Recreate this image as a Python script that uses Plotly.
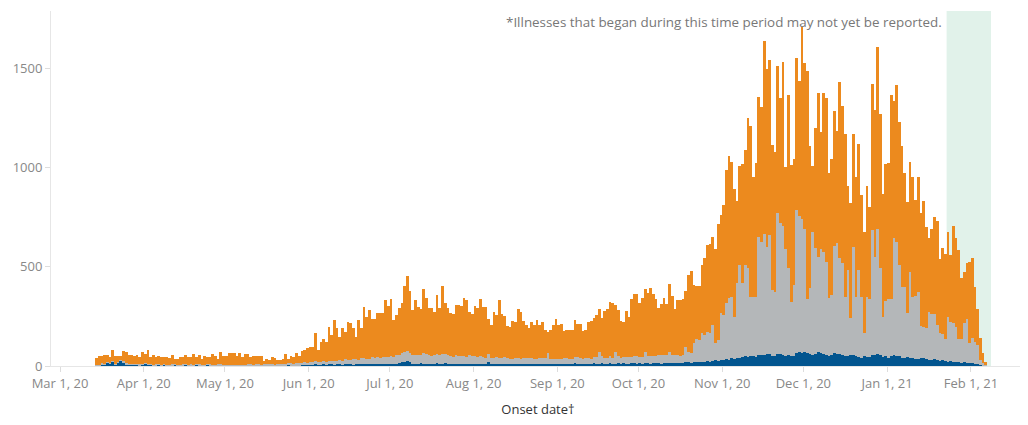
import pandas as pd
import plotly.graph_objects as go

# Daily onset dates: 2020-03-14 .. 2021-02-06
start_date = "2020-03-14"

# Stack top (all cases) per day
total = [
    # Mar 14-31
    40, 50, 50, 57, 54, 47, 81, 50, 50, 50, 76, 71, 57, 55, 50, 55, 45, 71,
    # Apr
    59, 81, 45, 55, 47, 50, 45, 44, 44, 42, 55, 37, 34, 44, 44, 55, 44, 44, 60, 47,
    54, 34, 50, 47, 47, 60, 50, 34, 71, 50,
    # May
    50, 64, 64, 64, 50, 64, 47, 60, 60, 47, 50, 50, 50, 50, 27, 34, 30, 45, 40, 30,
    30, 37, 60, 37, 50, 47, 64, 52, 76, 79, 89,
    # Jun
    97, 97, 166, 81, 119, 136, 119, 197, 156, 232, 190, 148, 193, 173, 220, 215, 193, 148, 232, 190,
    297, 247, 282, 237, 237, 267, 267, 267, 334, 304,
    # Jul
    338, 234, 257, 294, 318, 403, 454, 378, 284, 334, 297, 287, 388, 344, 294, 294, 274, 358, 291, 403,
    318, 291, 267, 260, 307, 307, 304, 341, 334, 274, 264,
    # Aug
    301, 291, 338, 297, 297, 237, 207, 270, 257, 333, 260, 254, 200, 197, 227, 220, 287, 274, 227, 207,
    190, 223, 207, 232, 207, 220, 181, 170, 180, 207, 237,
    # Sep
    207, 210, 176, 181, 181, 181, 232, 213, 210, 176, 181, 223, 228, 244, 257, 287, 244, 277, 287, 323,
    316, 307, 282, 227, 220, 277, 249, 338, 363, 363,
    # Oct
    318, 343, 388, 368, 393, 363, 338, 294, 312, 343, 312, 413, 353, 287, 333, 333, 338, 378, 459, 480,
    408, 403, 403, 509, 544, 610, 615, 648, 588, 716, 760,
    # Nov
    811, 988, 1058, 1030, 892, 832, 1008, 1018, 1089, 1250, 1210, 951, 1023, 1356, 1305, 1638, 1497, 1542, 1114, 1079,
    1512, 1351, 1532, 1005, 1366, 1013, 1043, 1552, 1436, 1707,
    # Dec
    1527, 1487, 1109, 1008, 1200, 1376, 1179, 1376, 1351, 973, 1043, 1287, 1184, 1431, 1310, 1169, 907, 823, 1169, 954,
    1119, 862, 677, 907, 803, 1421, 1290, 1609, 1270, 867, 1018,
    # Jan
    1025, 1366, 1337, 1416, 1230, 1110, 974, 828, 1028, 954, 837, 951, 769, 830, 700, 643, 690, 749, 729, 539,
    593, 563, 675, 560, 704, 645, 585, 445, 472, 517, 524,
    # Feb 1-6
    543, 400, 289, 139, 64, 22,
]

# Top of the grey layer (grey + blue)
gray_top = [
    # Mar 14-31
    4, 5, 13, 12, 20, 14, 25, 10, 20, 29, 23, 13, 10, 10, 11, 8, 8, 10,
    # Apr
    16, 10, 9, 7, 8, 9, 7, 9, 7, 7, 9, 9, 7, 7, 9, 9, 5, 8, 7, 10,
    8, 5, 7, 10, 8, 6, 6, 8, 8, 6,
    # May
    7, 7, 7, 7, 7, 7, 7, 7, 8, 8, 6, 9, 9, 7, 8, 8, 9, 9, 7, 11,
    11, 9, 10, 15, 14, 11, 14, 14, 15, 18, 17,
    # Jun
    18, 19, 24, 18, 21, 25, 21, 26, 26, 27, 27, 30, 26, 34, 31, 28, 33, 34, 31, 40,
    38, 36, 37, 43, 40, 46, 40, 47, 44, 47,
    # Jul
    50, 45, 54, 58, 64, 70, 77, 68, 54, 56, 53, 54, 64, 59, 53, 50, 54, 60, 55, 60,
    59, 54, 50, 47, 55, 52, 52, 48, 45, 53, 50,
    # Aug
    48, 45, 51, 46, 42, 60, 39, 40, 47, 38, 39, 46, 40, 37, 34, 42, 41, 37, 40, 38,
    38, 39, 34, 34, 39, 38, 40, 65, 35, 36, 37,
    # Sep
    36, 36, 39, 39, 36, 36, 43, 43, 38, 35, 42, 39, 36, 43, 44, 70, 48, 42, 42, 49,
    42, 70, 48, 42, 45, 47, 46, 44, 51, 48,
    # Oct
    46, 46, 72, 49, 50, 48, 48, 53, 56, 53, 56, 70, 56, 53, 58, 50, 55, 97, 72, 67,
    114, 134, 131, 168, 158, 171, 168, 208, 114, 131, 269,
    # Nov
    255, 316, 341, 349, 245, 417, 509, 417, 507, 494, 346, 346, 346, 648, 623, 665, 598, 662, 383, 373,
    773, 719, 707, 588, 492, 324, 408, 786, 758, 739,
    # Dec
    689, 338, 391, 677, 596, 551, 588, 576, 526, 341, 358, 606, 618, 543, 521, 349, 484, 240, 601, 349,
    484, 346, 168, 346, 336, 685, 551, 689, 492, 245, 329,
    # Jan
    336, 338, 643, 625, 507, 396, 396, 265, 474, 349, 353, 375, 200, 198, 190, 272, 260, 260, 207, 165,
    160, 134, 249, 223, 215, 195, 134, 136, 215, 235, 114,
    # Feb 1-6
    139, 123, 106, 30, 13, 5,
]

# Top of the blue layer
blue_top = [
    # Mar 14-31
    2, 3, 10, 10, 17, 12, 22, 8, 17, 27, 20, 10, 8, 8, 8, 6, 5, 8,
    # Apr
    13, 8, 6, 5, 5, 6, 5, 6, 5, 4, 5, 6, 5, 4, 5, 6, 3, 5, 4, 6,
    5, 3, 4, 6, 5, 4, 3, 5, 4, 3,
    # May
    3, 4, 3, 2, 3, 4, 2, 3, 2, 3, 2, 3, 4, 3, 2, 3, 2, 3, 2, 3,
    4, 3, 2, 3, 4, 3, 5, 4, 3, 4, 5,
    # Jun
    6, 5, 8, 6, 7, 9, 6, 8, 10, 7, 9, 8, 6, 10, 9, 8, 7, 10, 9, 12,
    8, 10, 9, 11, 10, 12, 8, 11, 10, 9,
    # Jul
    10, 9, 12, 14, 18, 22, 27, 20, 12, 10, 9, 14, 12, 11, 9, 10, 12, 14, 11, 10,
    13, 12, 10, 9, 11, 10, 12, 10, 9, 11, 10,
    # Aug
    10, 9, 11, 12, 10, 18, 9, 8, 11, 10, 9, 12, 10, 9, 8, 10, 11, 9, 10, 12,
    10, 9, 8, 10, 11, 12, 10, 9, 11, 10, 9,
    # Sep
    10, 12, 11, 9, 10, 12, 13, 11, 10, 9, 12, 11, 10, 13, 12, 11, 14, 12, 10, 13,
    12, 11, 14, 12, 13, 11, 12, 14, 13, 12,
    # Oct
    14, 12, 15, 13, 12, 14, 16, 13, 12, 15, 14, 13, 16, 15, 14, 13, 15, 18, 20, 16,
    18, 22, 20, 18, 22, 25, 20, 24, 28, 26, 30,
    # Nov
    32, 35, 30, 38, 36, 40, 42, 45, 48, 44, 50, 52, 46, 55, 58, 54, 60, 62, 50, 48,
    62, 60, 58, 50, 55, 48, 52, 66, 70, 65,
    # Dec
    72, 68, 60, 55, 62, 70, 65, 60, 58, 52, 55, 68, 62, 60, 56, 50, 48, 58, 54, 52,
    45, 42, 50, 46, 44, 58, 55, 62, 55, 45, 48,
    # Jan
    42, 50, 55, 52, 48, 40, 38, 45, 42, 40, 36, 34, 38, 40, 35, 30, 32, 34, 30, 26,
    28, 25, 22, 24, 22, 20, 18, 16, 18, 15, 14,
    # Feb 1-6
    14, 12, 10, 6, 3, 1,
]

y_ticks = [0, 500, 1000, 1500]
x_title = "Onset date\u2020"
note_text = "*Illnesses that began during this time period may not yet be reported."
shade_start = "2021-01-23"
shade_end = "2021-02-08 10:00"

dates = pd.date_range(start_date, periods=len(total), freq="D")
blue_seg = list(blue_top)
gray_seg = [g - b for g, b in zip(gray_top, blue_top)]
orange_seg = [t - g for t, g in zip(total, gray_top)]

C_BLUE = "#02558F"
C_GRAY = "#B4B7B9"
C_ORANGE = "#EC8A1E"
FONT = "Open Sans"

fig = go.Figure()
for seg, col, name in [(blue_seg, C_BLUE, "blue"), (gray_seg, C_GRAY, "gray"), (orange_seg, C_ORANGE, "orange")]:
    fig.add_trace(go.Bar(
        x=dates, y=seg, name=name, marker=dict(color=col, line=dict(width=0)),
        xperiod=86400000, xperiodalignment="middle", hoverinfo="skip",
    ))

fig.add_shape(type="rect", xref="x", yref="paper", x0=shade_start, x1=shade_end,
              y0=0, y1=1, fillcolor="#E1F2EA", line=dict(width=0), layer="below")

fig.add_annotation(text=note_text, xref="x", yref="paper", x="2021-01-22", y=0.969,
                   xanchor="right", yanchor="middle", showarrow=False,
                   font=dict(family=FONT, size=13.4, color="#777777"))

# the page body adds an 8px offset, so the figure is sized/margined to compensate
fig.update_layout(
    width=1020, height=417,
    margin=dict(l=43, r=3, t=3, b=59),
    barmode="stack", bargap=0, showlegend=False,
    plot_bgcolor="white", paper_bgcolor="white",
    font=dict(family=FONT, size=13, color="#888888"),
)
fig.update_xaxes(
    type="date", range=["2020-02-26 16:00", "2021-02-21"],
    tick0="2020-03-01", dtick="M1", tickformat="%b %-d, %y",
    ticks="outside", ticklen=5, tickcolor="#DDDDDD",
    showgrid=False, showline=True, linecolor="#E6E6E6", linewidth=1,
    tickfont=dict(family=FONT, size=13, color="#888888"),
    title=dict(text=x_title, font=dict(family=FONT, size=13, color="#333333"), standoff=14),
    automargin=False,
)
fig.update_yaxes(
    range=[0, 1790], tickvals=y_ticks, ticks="outside", ticklen=5, tickcolor="#DDDDDD",
    showgrid=False, showline=True, linecolor="#E6E6E6", linewidth=1, zeroline=False,
    tickfont=dict(family=FONT, size=13, color="#888888"), automargin=False,
)

fig.write_html("out.html")
